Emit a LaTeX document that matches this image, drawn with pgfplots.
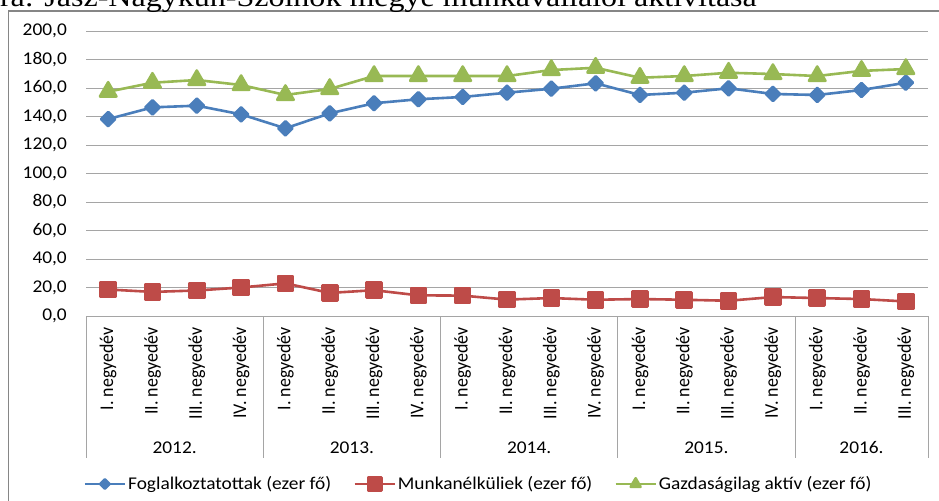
\documentclass[border=0pt]{standalone}
\usepackage{fontspec}
\setmainfont{Carlito}
\newfontfamily\tnr{Liberation Serif}
\usepackage{graphicx}
\usepackage{pgfplots}
\usepackage{pgfplotstable}
\pgfplotsset{compat=1.18}
\definecolor{cblue}{RGB}{74,126,187}
\definecolor{cred}{RGB}{190,75,72}
\definecolor{cgreen}{RGB}{152,185,84}
\definecolor{cgrid}{RGB}{165,165,165}
\definecolor{cframe}{RGB}{134,134,134}
\newcommand\hs[1]{\scalebox{1.08}[1]{#1}}
\newcommand\q[1]{\scalebox{1}[1.08]{#1 negyedév}}
\newcommand\fs{\fontsize{18}{21}\selectfont}

\pgfplotstableread{
x fog munk gazd
0 138.2 18.6 157.4
1 146.4 16.9 163.7
2 147.6 17.9 165.6
3 141.5 20.0 162.1
4 131.7 22.9 155.1
5 142.2 16.2 159.3
6 149.3 18.1 168.4
7 152.1 14.5 168.4
8 153.7 14.3 168.4
9 156.7 11.5 168.4
10 159.5 12.6 172.6
11 163.3 11.4 174.2
12 155.1 11.9 167.2
13 156.7 11.4 168.4
14 159.8 10.7 170.7
15 155.8 13.3 169.8
16 155.1 12.6 168.4
17 158.6 11.9 172.0
18 163.7 10.2 173.3
}\data

\begin{document}
\begin{tikzpicture}
\useasboundingbox (0,0) rectangle (939bp,501bp);
\clip (0,0) rectangle (939bp,501bp);
\fill[white] (0,0) rectangle (939bp,501bp);
\draw[cframe, line width=1.8bp] (8.5bp,-5bp) -- (8.5bp,490bp) -- (945bp,490bp);
\node[anchor=base east, inner sep=0pt] at (757bp,494bp) {\tnr\fontsize{28}{32}\selectfont\scalebox{1.148}[1]{ábra: Jász-Nagykun-Szolnok megye munkavállalói aktivitása}};
\begin{axis}[
  at={(86bp,185bp)}, anchor=south west, scale only axis,
  width=842bp, height=285bp,
  xmin=-0.5, xmax=18.5, ymin=0, ymax=200,
  clip=false,
  axis lines*=left,
  y axis line style={draw=none},
  x axis line style={draw=cgrid, line width=0.9bp},
  tick style={draw=none},
  ytick={0,20,...,200},
  ymajorgrids,
  major grid style={cgrid, line width=0.9bp},
  /pgf/number format/assume math mode=true,
  yticklabel={\hs{\pgfmathprintnumber[fixed,fixed zerofill,precision=1,use comma]{\tick}}},
  yticklabel style={font=\fs, anchor=east, inner sep=0pt},
  yticklabel shift=19bp,
  xtick={0,...,18},
  xticklabels={\q{I.},\q{II.},\q{III.},\q{IV.},\q{I.},\q{II.},\q{III.},\q{IV.},\q{I.},\q{II.},\q{III.},\q{IV.},\q{I.},\q{II.},\q{III.},\q{IV.},\q{I.},\q{II.},\q{III.}},
  xticklabel style={font=\fs, rotate=90, anchor=east, inner sep=0pt},
  xticklabel shift=11bp,
  legend columns=3,
  legend style={draw=none, fill=none, font=\fs, at={(0.4662,-0.5895)}, anchor=center,
    /tikz/every even column/.append style={column sep=20bp}},
  legline/.style={legend image code/.code={\draw[mark repeat=2,mark phase=2,##1, every mark/.append style={scale=#1}] plot coordinates {(0bp,0bp) (20bp,0bp) (40bp,0bp)};}},
]
\addplot[cblue, line width=2.6bp, line join=round, mark=square*, mark size=5bp, mark options={rotate=45}, legline=0.65] table[x=x,y=fog]{\data};
\addlegendentry{\hs{Foglalkoztatottak (ezer fő)}}
\addplot[cred, line width=2.6bp, line join=round, mark=square*, mark size=7.5bp, legline=0.9] table[x=x,y=munk]{\data};
\addlegendentry{\hs{Munkanélküliek (ezer fő)}}
\addplot[cgreen, line width=2.6bp, line join=round, mark=triangle*, mark size=9.5bp, legline=0.6] table[x=x,y=gazd]{\data};
\addlegendentry{\hs{Gazdaságilag aktív (ezer fő)}}
\pgfplotsinvokeforeach{-0.5,3.5,7.5,11.5,15.5,18.5}{\draw[cgrid, line width=0.9bp] (axis cs:#1,0) -- ++(0pt,-142bp);}
\node[font=\fs, yshift=-131.5bp] at (axis cs:1.5,0) {\hs{2012.}};
\node[font=\fs, yshift=-131.5bp] at (axis cs:5.5,0) {\hs{2013.}};
\node[font=\fs, yshift=-131.5bp] at (axis cs:9.5,0) {\hs{2014.}};
\node[font=\fs, yshift=-131.5bp] at (axis cs:13.5,0) {\hs{2015.}};
\node[font=\fs, yshift=-131.5bp] at (axis cs:17,0) {\hs{2016.}};
\end{axis}
\end{tikzpicture}
\end{document}
